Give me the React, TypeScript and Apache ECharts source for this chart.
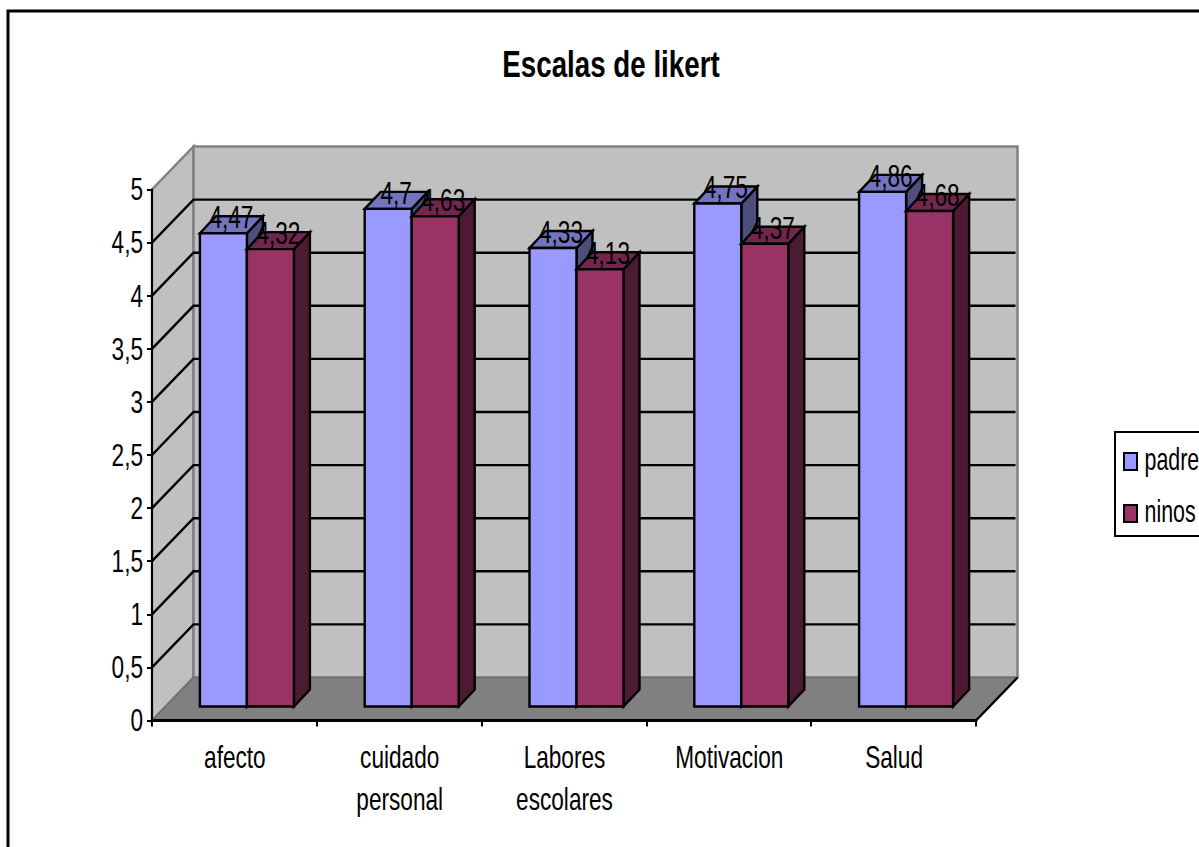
import React, { useEffect, useRef } from "react";
import * as echarts from "echarts";

const titleText = "Escalas de likert";
const categories = ["afecto", "cuidado\npersonal", "Labores\nescolares", "Motivacion", "Salud"];
const padre = [4.47, 4.7, 4.33, 4.75, 4.86];
const ninos = [4.32, 4.63, 4.13, 4.37, 4.68];
const axisTicks = [0, 0.5, 1, 1.5, 2, 2.5, 3, 3.5, 4, 4.5, 5];
const gridTicks = [0.5, 1, 1.5, 2, 2.5, 3, 3.5, 4, 4.5];
const legendNames = ["padre", "ninos"];
const legendColors = ["#9999ff", "#993366"];

const FONT = "'Liberation Sans', Arial, sans-serif";
const NARROW = 0.73;
const LABEL_SIZE = 31;
const WALL_DX = 41.5;
const WALL_DY = -43;
const FRONT_DX = 12.5;
const FRONT_DY = 14;
const BAR_W = 47;
const BAR_DX = 16;
const BAR_DY = -17;
const BAR_SCALE = 0.997;

const narrowText = (text: string, x: number, y: number, extra: any = {}) => ({
  type: "text",
  x,
  y,
  scaleX: NARROW,
  style: {
    text,
    fontFamily: FONT,
    fontSize: LABEL_SIZE,
    fill: "#000",
    align: "center",
    verticalAlign: "middle",
    ...extra,
  },
});

const comma = (v: number) => String(v).replace(".", ",");

const barItem = (front: string, top: string, side: string, sign: number) => (params: any, api: any) => {
  const i = api.value(0);
  const v = api.value(1);
  const base = api.coord([i, 0]);
  const head = api.coord([i, v]);
  const cx = base[0] + FRONT_DX;
  const x0 = sign < 0 ? cx - BAR_W : cx;
  const x1 = x0 + BAR_W;
  const y0 = base[1] - FRONT_DY;
  const y1 = y0 - (base[1] - head[1]) * BAR_SCALE;
  const stroke = { stroke: "#000", lineWidth: 2.4, lineJoin: "miter" };
  return {
    type: "group",
    children: [
      {
        type: "polygon",
        shape: { points: [[x1, y1], [x1 + BAR_DX, y1 + BAR_DY], [x1 + BAR_DX, y0 + BAR_DY], [x1, y0]] },
        style: { fill: side, ...stroke },
      },
      {
        type: "polygon",
        shape: { points: [[x0, y1], [x0 + BAR_DX, y1 + BAR_DY], [x1 + BAR_DX, y1 + BAR_DY], [x1, y1]] },
        style: { fill: top, ...stroke },
      },
      {
        type: "rect",
        shape: { x: x0, y: y1, width: x1 - x0, height: y0 - y1 },
        style: { fill: front, ...stroke },
      },
      { ...narrowText(comma(v), (x0 + x1) / 2 + 8, y1 - 16), z2: 100 },
    ],
  };
};

export default function App() {
  const ref = useRef<HTMLDivElement>(null);
  useEffect(() => {
    document.body.style.margin = "0";
    const chart = echarts.init(ref.current!, null, { renderer: "svg" });
    chart.setOption({
      animation: false,
      backgroundColor: "#fff",
      textStyle: { fontFamily: FONT },
      graphic: [
        {
          type: "rect",
          z: -1,
          shape: { x: 8, y: 11, width: 1400, height: 1200 },
          style: { fill: "none", stroke: "#000", lineWidth: 3 },
        },
        {
          type: "text",
          x: 611,
          y: 64,
          scaleX: 0.75,
          style: {
            text: titleText,
            fontFamily: FONT,
            fontWeight: "bold",
            fontSize: 37,
            fill: "#000",
            align: "center",
            verticalAlign: "middle",
          },
        },
        {
          type: "rect",
          z: -1,
          shape: { x: 1115, y: 432, width: 300, height: 104 },
          style: { fill: "#fff", stroke: "#000", lineWidth: 2 },
        },
        ...legendNames.flatMap((name, i) => [
          {
            type: "rect",
            shape: { x: 1124, y: 453 + i * 52, width: 13, height: 17 },
            style: { fill: legendColors[i], stroke: "#000", lineWidth: 2 },
          },
          {
            type: "text",
            x: 1144.5,
            y: 459.5 + i * 52,
            scaleX: 0.69,
            style: {
              text: name,
              fontFamily: FONT,
              fontSize: LABEL_SIZE,
              fill: "#000",
              align: "left",
              verticalAlign: "middle",
            },
          },
        ]),
      ],
      grid: { left: 152, top: 189.5, width: 824, height: 531, containLabel: false },
      xAxis: {
        type: "category",
        data: categories,
        z: 6,
        axisLine: { lineStyle: { color: "#000", width: 3 } },
        axisTick: { show: true, length: 6, lineStyle: { color: "#000", width: 2 } },
        axisLabel: { show: false },
        splitLine: { show: false },
      },
      yAxis: {
        type: "value",
        min: 0,
        max: 5,
        interval: 0.5,
        z: 6,
        axisLine: { show: true, lineStyle: { color: "#000", width: 2 } },
        axisTick: { show: true, length: 5, lineStyle: { color: "#000", width: 2 } },
        axisLabel: { show: false },
        splitLine: { show: false },
      },
      series: [
        {
          name: "muro",
          type: "custom",
          z: 1,
          data: [[0, 0]],
          encode: { x: 0, y: 1 },
          renderItem: (params: any) => {
            const c = params.coordSys;
            const L = c.x, R = c.x + c.width, T = c.y, B = c.y + c.height;
            const grey = { stroke: "#808080", lineWidth: 2.5 };
            return {
              type: "group",
              children: [
                {
                  type: "polygon",
                  shape: { points: [[L, B], [L + WALL_DX, B + WALL_DY], [L + WALL_DX, T + WALL_DY], [L, T]] },
                  style: { fill: "#c0c0c0", ...grey },
                },
                {
                  type: "rect",
                  shape: { x: L + WALL_DX, y: T + WALL_DY, width: c.width, height: c.height },
                  style: { fill: "#c0c0c0", ...grey },
                },
                {
                  type: "polygon",
                  shape: { points: [[L, B], [R, B], [R + WALL_DX, B + WALL_DY], [L + WALL_DX, B + WALL_DY]] },
                  style: { fill: "#808080", stroke: "#6e6e6e", lineWidth: 1.5 },
                },
                {
                  type: "line",
                  shape: { x1: R, y1: B, x2: R + WALL_DX, y2: B + WALL_DY },
                  style: { stroke: "#000", lineWidth: 2.4 },
                },
              ],
            };
          },
        },
        {
          name: "rejilla",
          type: "custom",
          z: 2,
          data: gridTicks.map((v) => [0, v]),
          encode: { x: 0, y: 1 },
          renderItem: (params: any, api: any) => {
            const c = params.coordSys;
            const y = api.coord([0, api.value(1)])[1];
            return {
              type: "polyline",
              shape: { points: [[c.x, y], [c.x + WALL_DX, y + WALL_DY], [c.x + WALL_DX + c.width - 2, y + WALL_DY]] },
              style: { fill: "none", stroke: "#000", lineWidth: 2.4 },
            };
          },
        },
        {
          name: "padre",
          type: "custom",
          z: 3,
          data: padre.map((v, i) => [i, v]),
          encode: { x: 0, y: 1 },
          renderItem: barItem(legendColors[0], "#7373bf", "#4d4d80", -1),
        },
        {
          name: "ninos",
          type: "custom",
          z: 4,
          data: ninos.map((v, i) => [i, v]),
          encode: { x: 0, y: 1 },
          renderItem: barItem(legendColors[1], "#73264d", "#4d1a33", 1),
        },
        {
          name: "etiquetasY",
          type: "custom",
          z: 7,
          data: axisTicks.map((v) => [0, v]),
          encode: { x: 0, y: 1 },
          renderItem: (params: any, api: any) => {
            const v = api.value(1);
            return narrowText(comma(v), params.coordSys.x - 9, api.coord([0, v])[1], { align: "right" });
          },
        },
        {
          name: "etiquetasX",
          type: "custom",
          z: 7,
          data: categories.map((_, i) => [i, 0]),
          encode: { x: 0, y: 1 },
          renderItem: (params: any, api: any) => {
            const i = api.value(0);
            const [x, y] = api.coord([i, 0]);
            const lines = categories[i].split("\n");
            return {
              type: "group",
              children: lines.map((line, k) => narrowText(line, x + 0.5, y + 37 + k * 42)),
            };
          },
        },
      ],
    });
    return () => chart.dispose();
  }, []);
  return <div ref={ref} style={{ width: 1199, height: 847, overflow: "hidden" }} />;
}
